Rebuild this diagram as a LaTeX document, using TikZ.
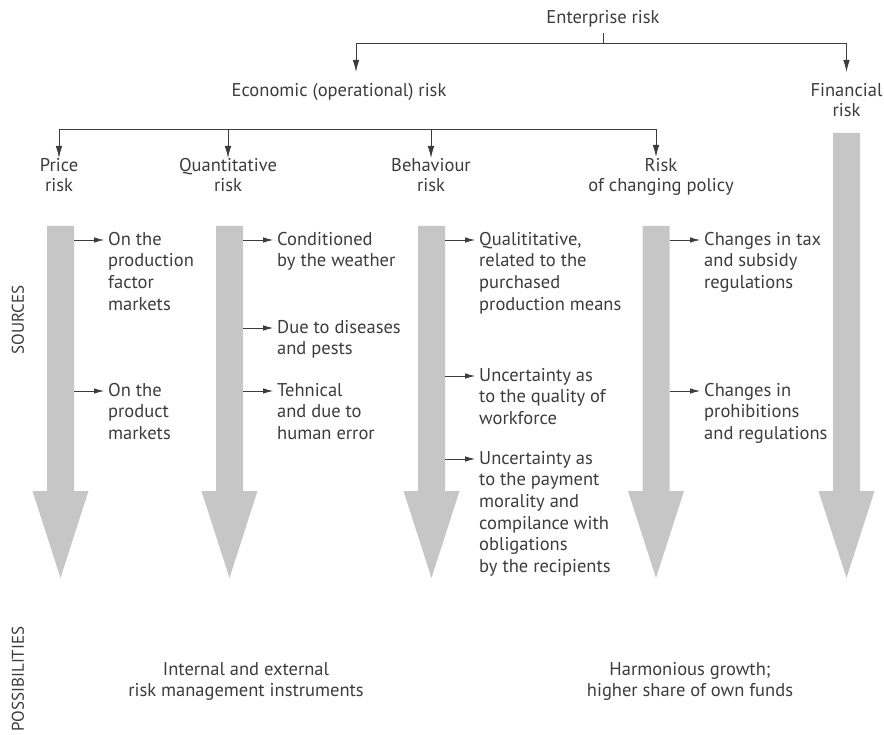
\documentclass[tikz,border=0pt]{standalone}
\usepackage{fontspec}
\setmainfont{PT Sans}
\usetikzlibrary{arrows.meta}
\definecolor{txt}{HTML}{3C3C3C}
\definecolor{bar}{HTML}{C6C6C6}
\begin{document}
\begin{tikzpicture}[x=1pt,y=-1pt,
  every node/.style={text=txt,inner sep=0pt},
  head/.style={align=center,anchor=north,font=\fontsize{18.5}{20}\selectfont,execute at begin node=\strut},
  one/.style={anchor=base,font=\fontsize{18.5}{20}\selectfont},
  lbl/.style={align=left,anchor=north west,font=\fontsize{18.5}{21.7}\selectfont,execute at begin node=\strut},
  bot/.style={align=center,anchor=north,font=\fontsize{18.5}{21}\selectfont,execute at begin node=\strut},
  vert/.style={rotate=90,font=\fontsize{17}{20}\selectfont},
  tree/.style={draw=txt,line width=0.8pt,-{Latex[length=12pt,width=6.5pt]}},
  side/.style={draw=txt,line width=0.8pt,-{Latex[length=10pt,width=5.5pt]}},
  line/.style={draw=txt,line width=0.8pt},
  bigarrow/.style={fill=bar,draw=none}]
\useasboundingbox (0,0) rectangle (884,735);
% big gray arrows
\foreach \c/\t in {60.5/226,229.5/226,431.5/226,656/226,846.5/133}{
  \fill[bigarrow] (\c-13.5,\t) -- (\c+13.5,\t) -- (\c+13.5,491) -- (\c+28,491)
    -- (\c,578) -- (\c-28,491) -- (\c-13.5,491) -- cycle;
}
% tree
\node[one] (ent) at (603,24) {Enterprise risk};
\node[one] (eco) at (339,97) {Economic (operational) risk};
\node[head] (fin) at (846.5,83) {Financial\\risk};
\coordinate (j1) at (603,43);
\coordinate (j1l) at (356,43);
\coordinate (j1r) at (846.5,43);
\coordinate (eco-in) at (356,72);
\coordinate (fin-in) at (846.5,72);
\draw[line] (ent.south) ++(0,5) -- (j1);
\draw[line] (j1l) -- (j1r);
\draw[tree] (j1l) -- (eco-in);
\draw[tree] (j1r) -- (fin-in);
\node[head] (pr) at (59,158) {Price\\risk};
\node[head] (qr) at (228,158) {Quantitative\\risk};
\node[head] (br) at (431,158) {Behaviour\\risk};
\node[head] (cr) at (661,158) {Risk\\of changing policy};
\coordinate (j2a) at (59,129);
\coordinate (j2b) at (228,129);
\coordinate (j2c) at (431,129);
\coordinate (j2d) at (656,129);
\coordinate (cr-in) at (656,157);
\draw[line] (j2a) -- (j2d);
\draw[tree] (j2a) -- (pr.north);
\draw[tree] (j2b) -- (qr.north);
\draw[tree] (j2c) -- (br.north);
\draw[tree] (j2d) -- (cr-in);
% side arrows and labels
\foreach \n/\x/\y/\t in {
  p1/74/240/{On the\\production\\factor\\markets},
  p2/74/391/{On the\\product\\markets},
  q1/243/240/{Conditioned\\by the weather},
  q2/243/328/{Due to diseases\\and pests},
  q3/243/391/{Tehnical\\and due to\\human error},
  b1/445/240/{Qualititative,\\related to the\\purchased\\production means},
  b2/445/376/{Uncertainty as\\to the quality of\\workforce},
  b3/445/459/{Uncertainty as\\to the payment\\morality and\\compilance with\\obligations\\by the recipients},
  c1/670/240/{Changes in tax\\and subsidy\\regulations},
  c2/670/391/{Changes in\\prohibitions\\and regulations}}{
  \node[lbl] (\n) at (\x+34,\y-8.2) {\t};
  \coordinate (\n-from) at (\x,\y);
  \coordinate (\n-to) at (\x+30,\y);
  \draw[side] (\n-from) -- (\n-to);
}
% side labels
\node[vert] (src) at (18,320) {SOURCES};
\node[vert] (pos) at (18,679) {POSSIBILITIES};
\node[bot] (int) at (246,662) {Internal and external\\risk management instruments};
\node[bot] (har) at (690,662) {Harmonious growth;\\higher share of own funds};
\end{tikzpicture}
\end{document}
